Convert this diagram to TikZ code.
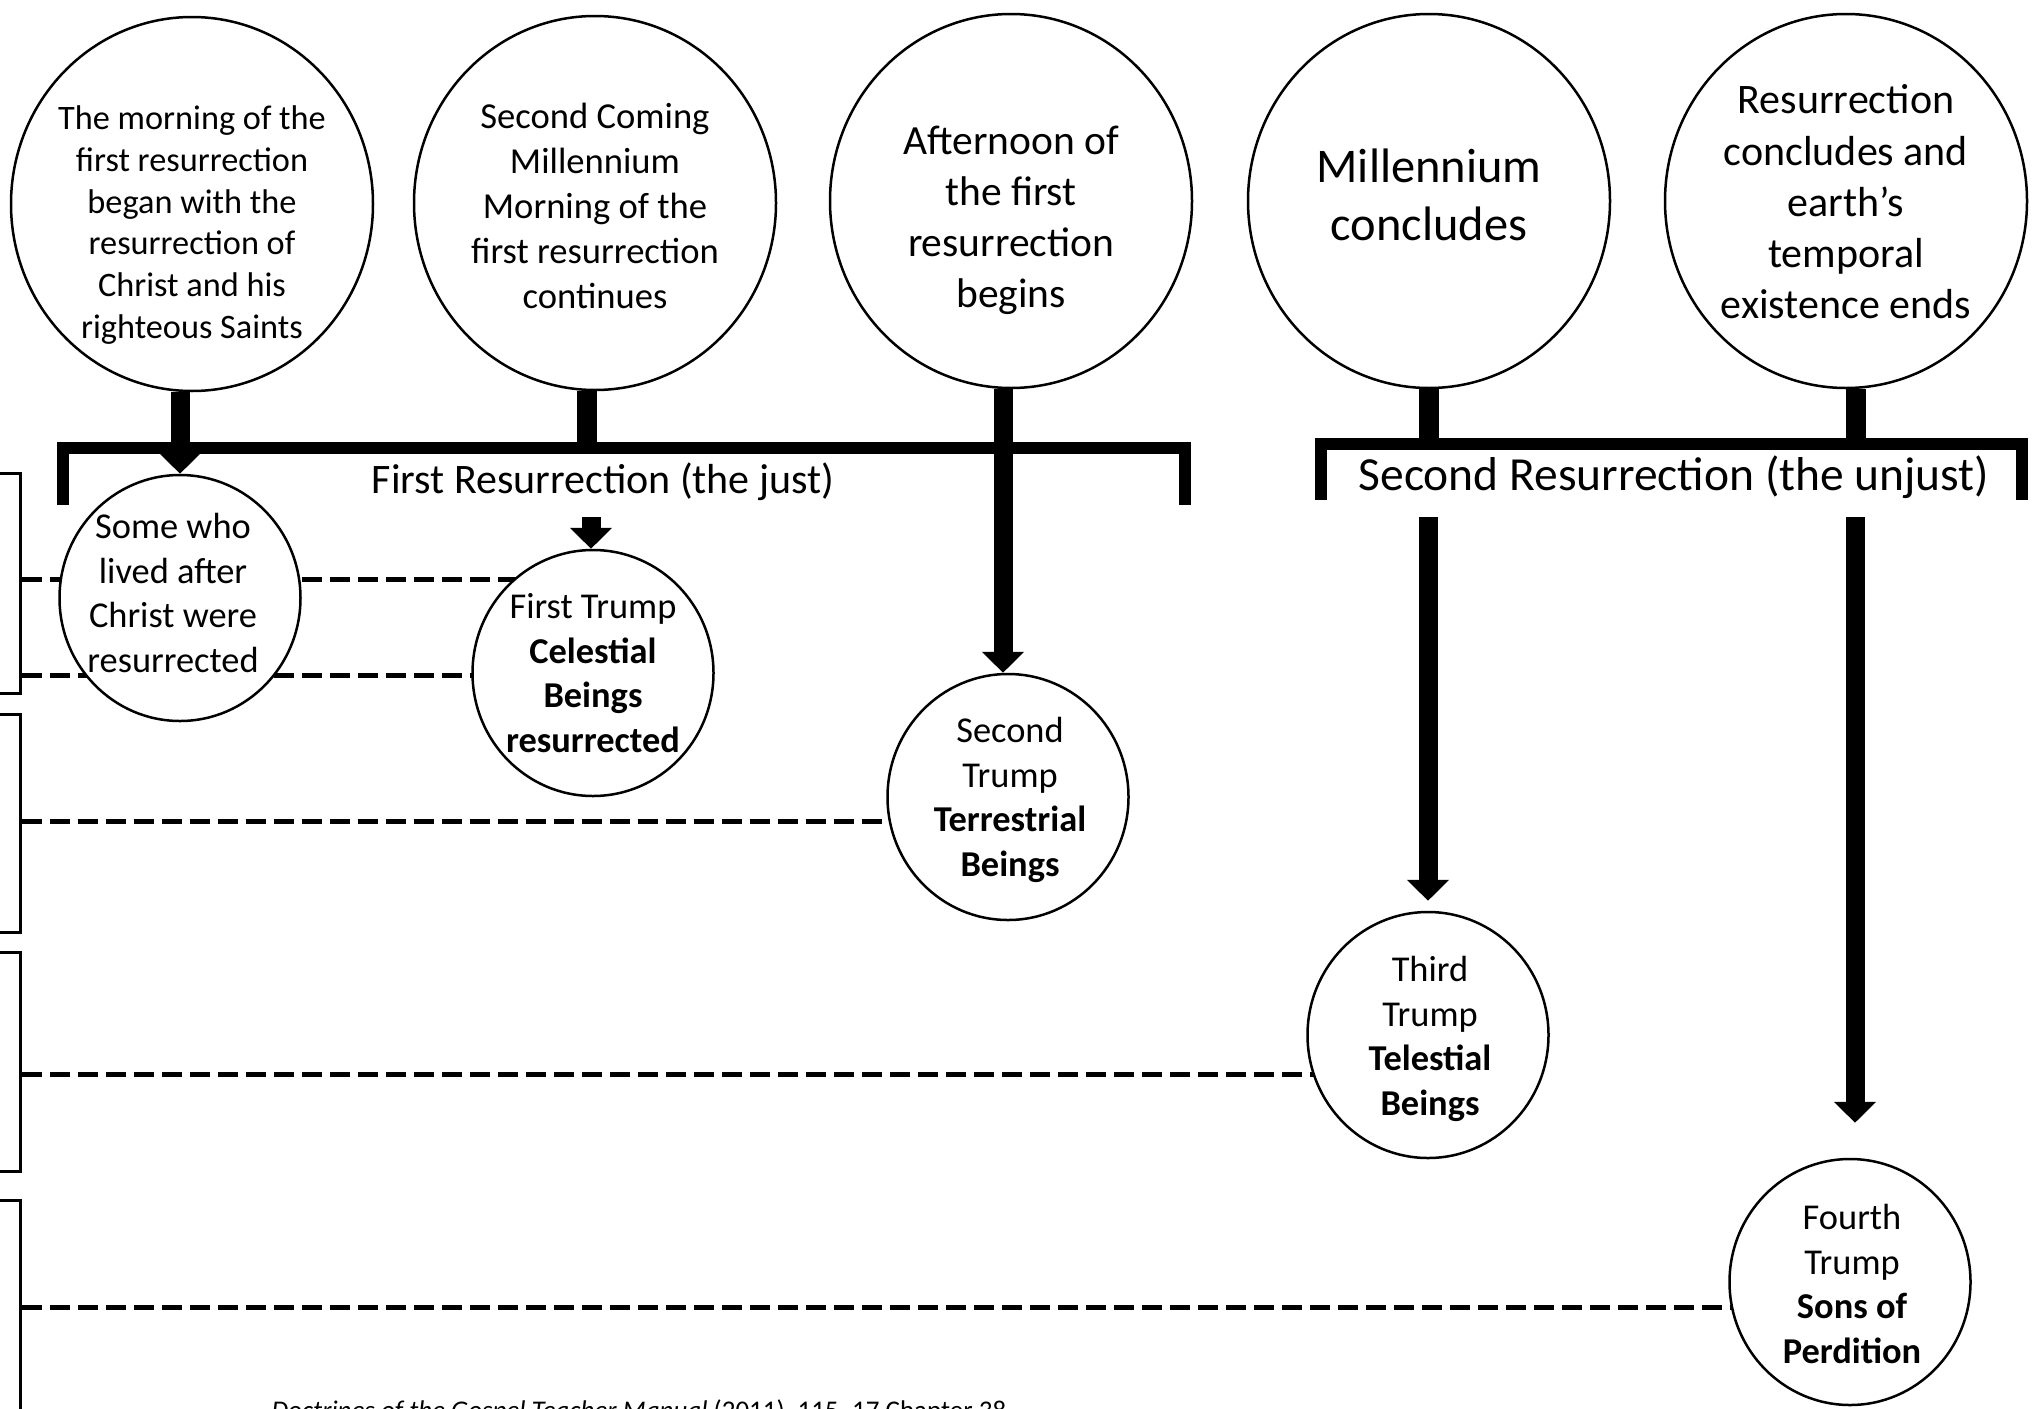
\documentclass[tikz,border=0pt]{standalone}
\usepackage{fontspec}
\setmainfont{Carlito}
\usepackage{tikz}
\usetikzlibrary{arrows.meta,shapes.geometric,calc}
\pgfdeclarelayer{bg}
\pgfsetlayers{bg,main}

\begin{document}
\begin{tikzpicture}[x=1pt,y=1pt,yscale=-1,xscale=1,
    bigc/.style={draw,ellipse,line width=2.5pt,fill=white,minimum width=362pt,minimum height=374pt,inner sep=0pt},
    smallc/.style={draw,ellipse,line width=2.5pt,fill=white,minimum width=241pt,minimum height=246pt,inner sep=0pt},
    ctext/.style={align=center,inner sep=0pt},
    slot/.style={draw,line width=3pt,minimum width=120pt,inner sep=0pt},
    bar/.style={line width=12pt},
    stem/.style={line width=20pt},
    bigarrow/.style={line width=19pt,-{Triangle[width=41pt,length=21pt]}},
    dashln/.style={line width=5pt,dash pattern=on 20pt off 8pt}]
        \useasboundingbox (0,0) rectangle (2036,1408);

        % boxes at the left edge
        \node[slot,minimum height=220pt] (b1) at (-40,583) {};
        \node[slot,minimum height=218pt] (b2) at (-40,823) {};
        \node[slot,minimum height=219pt] (b3) at (-40,1062) {};
        \node[slot,minimum height=300pt] (b4) at (-40,1350) {};

        % top circles
        \node[bigc] (morn) at (192,204) {};
        \node[bigc] (coming) at (595,203) {};
        \node[bigc] (after) at (1011,201) {};
        \node[bigc] (mill) at (1429,201) {};
        \node[bigc] (ends) at (1846,201) {};

        \node[ctext,font=\fontsize{34.3}{41.8}\selectfont] (mornt) at (192,225) {The morning of the\\first resurrection\\began with the\\resurrection of\\Christ and his\\righteous Saints};
        \node[ctext,font=\fontsize{36.6}{44.8}\selectfont] (comingt) at (595,206) {Second Coming\\Millennium\\Morning of the\\first resurrection\\continues};
        \node[ctext,font=\fontsize{41.5}{51}\selectfont] (aftert) at (1011,220) {Afternoon of\\the first\\resurrection\\begins};
        \node[ctext,font=\fontsize{48.4}{58.5}\selectfont] (millt) at (1429,195) {Millennium\\concludes};
        \node[ctext,font=\fontsize{42}{51.3}\selectfont] (endst) at (1846,202) {Resurrection\\concludes and\\earth's\\temporal\\existence ends};

        % lower circles
        \node[smallc] (s1) at (180,598) {};
        \node[smallc] (s2) at (593,673) {};
        \node[smallc] (s3) at (1008,797) {};
        \node[smallc] (s4) at (1428,1035) {};
        \node[smallc] (s5) at (1850,1282) {};

        \node[ctext,font=\fontsize{36.4}{44.6}\selectfont] (s1t) at (173,593) {Some who\\lived after\\Christ were\\resurrected};
        \node[ctext,font=\fontsize{36.4}{44.6}\selectfont] (s2t) at (593,673) {First Trump\\\textbf{Celestial}\\\textbf{Beings}\\\textbf{resurrected}};
        \node[ctext,font=\fontsize{36.4}{44.6}\selectfont] (s3t) at (1010,800) {Second\\Trump\\\textbf{Terrestrial}\\\textbf{Beings}};
        \node[ctext,font=\fontsize{36.4}{44.6}\selectfont] (s4t) at (1430,1039) {Third\\Trump\\\textbf{Telestial}\\\textbf{Beings}};
        \node[ctext,font=\fontsize{36.4}{44.6}\selectfont] (s5t) at (1852,1284) {Fourth\\Trump\\\textbf{Sons of}\\\textbf{Perdition}};

        % brackets
        \draw[bar] (63,505) -- (63,448) -- (1185,448) -- (1185,505);
        \draw[bar] (1321,500) -- (1321,444) -- (2022,444) -- (2022,500);
        \node[font=\fontsize{42}{50}\selectfont,anchor=base] (firstlbl) at (603,493) {First Resurrection (the just)};
        \node[font=\fontsize{47.5}{57}\selectfont,anchor=base] (secondlbl) at (1674,490) {Second Resurrection (the unjust)};

        % stems and arrows
        \draw[bigarrow] (s1.north |- morn.south) -- (s1.north);
        \draw[stem] ([xshift=-8pt]coming.south) -- ++(0,58);
        \draw[bigarrow] ([xshift=-5pt]s3.north |- after.south) -- ([xshift=-5pt]s3.north);
        \draw[stem] (mill.south) -- ++(0,56);
        \draw[stem] ([xshift=10pt]ends.south) -- ++(0,56);

        \coordinate (a2) at (591,517);
        \coordinate (a4) at (1428,517);
        \coordinate (a5) at (1855,517);
        \draw[bigarrow] (a2) -- (a2 |- s2.north);
        \draw[bigarrow] (a4) -- ($(s4.north)+(0,-10)$);
        \draw[bigarrow] (a5) -- ($(a5 |- s5.north)+(0,-35)$);

        % dashed links
        \begin{pgfonlayer}{bg}
        \draw[dashln] (b1.east |- 0,579) -- (s2 |- 0,579);
        \draw[dashln] (b1.east |- 0,675) -- (s2 |- 0,675);
        \draw[dashln] (b2.east |- 0,821) -- (s3 |- 0,821);
        \draw[dashln] (b3.east |- 0,1074) -- (s4 |- 0,1074);
        \draw[dashln] (b4.east |- 0,1307) -- (s5 |- 0,1307);
        \end{pgfonlayer}

        % source
        \node[font=\fontsize{27}{32}\selectfont,anchor=base west] (cite) at (268,1419) {\textit{Doctrines of the Gospel Teacher Manual} (2011), 115--17 Chapter 38};

\end{tikzpicture}
\end{document}
